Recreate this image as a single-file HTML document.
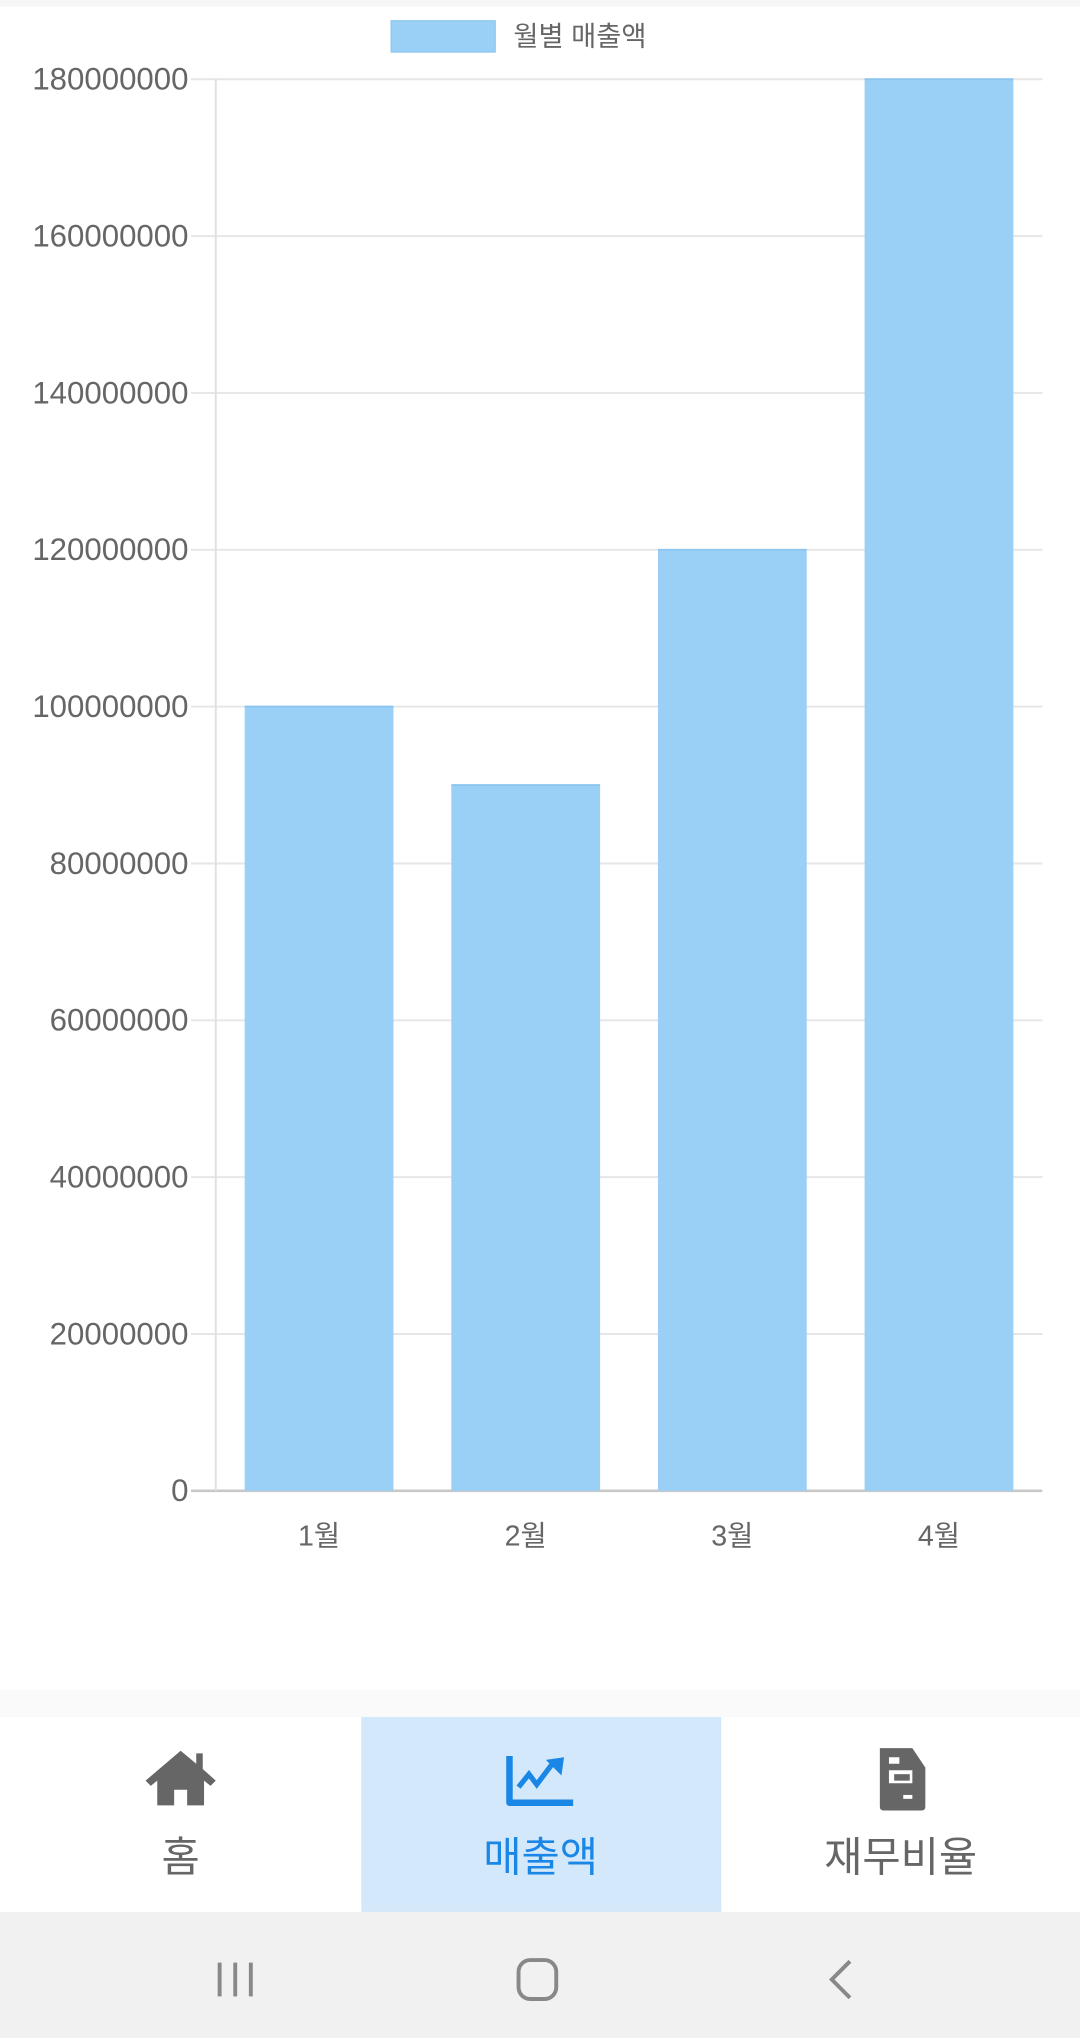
<!DOCTYPE html>
<html><head><meta charset="utf-8">
<style>
html,body{margin:0;padding:0;width:1080px;height:2038px;overflow:hidden;background:#fff;}
svg{display:block;font-family:"Liberation Sans","Noto Sans CJK KR",sans-serif;}
</style></head>
<body>
<svg id="chart" width="1080" height="2038" viewBox="0 0 831 1568" preserveAspectRatio="none" xmlns="http://www.w3.org/2000/svg">
  <rect x="0" y="0" width="831" height="1568" fill="#fff"/>
  <rect x="0" y="0" width="831" height="5" fill="#f6f6f6"/>
  <g id="legend">
    <rect x="301" y="16" width="80" height="24" fill="#9ad0f5" stroke="#8cc6f0" stroke-width="1"/>
    <text x="395" y="35" font-size="21" fill="#666">월별 매출액</text>
  </g>
  <g id="grid"></g>
  <g id="bars"></g>
  <g id="ylabels"></g>
  <g id="xlabels"></g>

  <rect x="0" y="1300" width="831" height="21" fill="#fafafa"/>
  <g>
    <rect x="0" y="1321" width="831" height="150" fill="#fff"/>
    <g>
      <path d="M139 1347 L112 1370 L116 1374 L121 1370 L121 1389 L134 1389 L134 1377 L144 1377 L144 1389 L157 1389 L157 1370 L162 1374 L166 1370 L156 1361 L156 1349 L151 1349 L151 1357 Z" fill="#666"/>
      <text x="139" y="1440" font-size="32" fill="#666" text-anchor="middle">홈</text>
    </g>
    <g>
      <rect x="278" y="1321" width="277" height="150" fill="#d4e8fb"/>
      <path d="M392 1351 L392 1387 L441 1387" fill="none" stroke="#1a86e6" stroke-width="5" stroke-linejoin="round"/>
      <path d="M399 1375 L407 1365 L413 1373 L425 1357" fill="none" stroke="#1a86e6" stroke-width="4"/>
      <path d="M420 1354 L434 1352 L432 1366 Z" fill="#1a86e6"/>
      <text x="416" y="1440" font-size="32" fill="#1a86e6" text-anchor="middle">매출액</text>
    </g>
    <g>
      <path d="M677 1345 L702 1345 L712 1360 L712 1390 Q712 1393 709 1393 L680 1393 Q677 1393 677 1390 Z" fill="#666"/>
      <rect x="684" y="1352" width="8" height="5" fill="#fff"/>
      <rect x="684" y="1362" width="18" height="10" fill="#fff"/>
      <rect x="688" y="1365" width="12" height="5" fill="#666"/>
      <rect x="695" y="1381" width="7" height="3" fill="#fff"/>
      <text x="693" y="1440" font-size="32" fill="#666" text-anchor="middle">재무비율</text>
    </g>
  </g>
  <g>
    <rect x="0" y="1471" width="831" height="97" fill="#f1f1f1"/>
    <g stroke="#888" stroke-width="3">
      <line x1="169" y1="1510" x2="169" y2="1536"/><line x1="181" y1="1510" x2="181" y2="1536"/><line x1="193" y1="1510" x2="193" y2="1536"/>
    </g>
    <rect x="399" y="1508" width="29" height="30" rx="9" fill="none" stroke="#888" stroke-width="3"/>
    <path d="M654 1509 L640 1523 L654 1537" fill="none" stroke="#888" stroke-width="3"/>
  </g>
</svg>
<script>
const categories = ['1월','2월','3월','4월'];
const salesValues = [100000000, 90000000, 120000000, 180000000];
const yTicks = [0,20000000,40000000,60000000,80000000,100000000,120000000,140000000,160000000,180000000];
const NS = 'http://www.w3.org/2000/svg';
const L = 166, R = 802, T = 61, B = 1147, yMax = 180000000;
function yScale(v){ return B - (v / yMax) * (B - T); }
const band = (R - L) / categories.length;
function xCenter(i){ return L + band * (i + 0.5); }
function mk(tag, attrs, parent){ const e = document.createElementNS(NS, tag); for (const k in attrs) e.setAttribute(k, attrs[k]); parent.appendChild(e); return e; }
const grid = document.getElementById('grid'), bars = document.getElementById('bars'),
      yl = document.getElementById('ylabels'), xl = document.getElementById('xlabels');
yTicks.forEach(v => {
  const y = yScale(v);
  const ln = mk('line', {x1:147, x2:R, y1:y, y2:y, stroke: v===0 ? '#c8c8c8' : '#e6e6e6', 'stroke-width': v===0 ? 2 : 1.5}, grid);
  
  
  const t = mk('text', {x:145, y:y+8, 'font-size':24, fill:'#666', 'text-anchor':'end'}, yl);
  t.textContent = String(v);
  
  
});
const ax = mk('line', {x1:L, x2:L, y1:T, y2:B, stroke:'#e0e0e0', 'stroke-width':1.5}, grid);


const bw = band * 0.72;
salesValues.forEach((v, i) => {
  const y = yScale(v);
  const r = mk('rect', {x: xCenter(i) - bw/2, y: y, width: bw, height: B - y, fill:'#9ad0f5'}, bars);
  
  
  const tl = mk('line', {x1: xCenter(i)-bw/2, x2: xCenter(i)+bw/2, y1: y, y2: y, stroke:'#8cc6f0', 'stroke-width':1.5}, bars);
  
  
});
categories.forEach((c, i) => {
  const t = mk('text', {x: xCenter(i), y: 1189, 'font-size':22, fill:'#666', 'text-anchor':'middle'}, xl);
  t.textContent = c;
  
  
});
</script>
</body></html>
